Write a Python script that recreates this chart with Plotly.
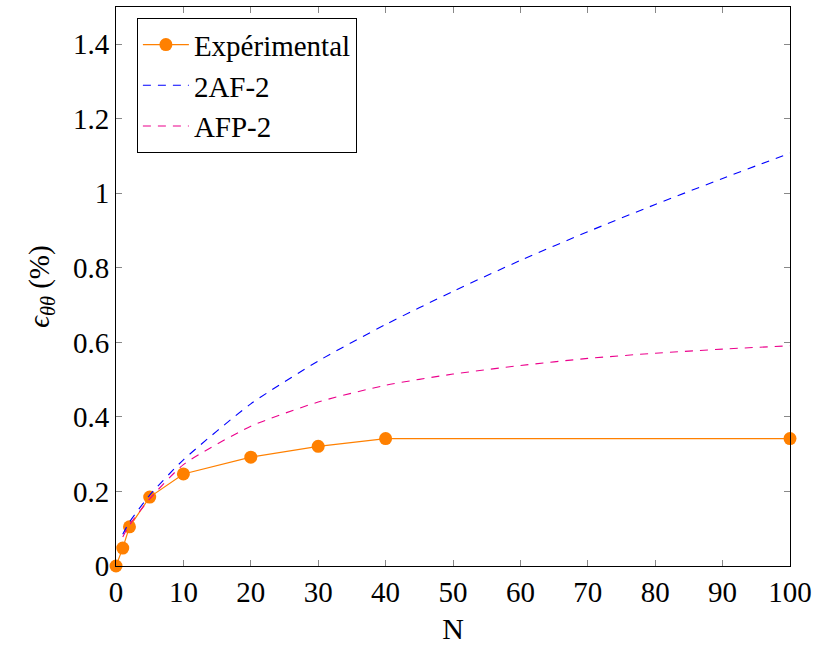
import plotly.graph_objects as go

# Experimental data
exp_N = [0, 1, 2, 5, 10, 20, 30, 40, 100]
exp_eps = [0.0, 0.048, 0.105, 0.185, 0.247, 0.292, 0.321, 0.342, 0.342]

# 2AF-2 model
af_N = [1, 2, 5, 10, 20, 30, 40, 50, 60, 70, 80, 90, 100]
af_eps = [0.085, 0.118, 0.19, 0.285, 0.435, 0.55, 0.648, 0.737, 0.82, 0.897, 0.97, 1.04, 1.108]

# AFP-2 model
afp_N = [1, 2, 5, 10, 20, 30, 40, 50, 60, 70, 80, 90, 100]
afp_eps = [0.078, 0.11, 0.18, 0.272, 0.375, 0.44, 0.485, 0.515, 0.538, 0.557, 0.571, 0.582, 0.591]

x_ticks = [0, 10, 20, 30, 40, 50, 60, 70, 80, 90, 100]
y_ticks = [0, 0.2, 0.4, 0.6, 0.8, 1.0, 1.2, 1.4]
y_tick_labels = ["0", "0.2", "0.4", "0.6", "0.8", "1", "1.2", "1.4"]

FONT = "Liberation Serif, DejaVu Serif, serif"

fig = go.Figure()
fig.add_trace(go.Scatter(
    x=exp_N, y=exp_eps, mode="lines+markers", name="Expérimental",
    line=dict(color="#FF8000", width=1.2),
    marker=dict(color="#FF8000", size=13, symbol="circle"),
    cliponaxis=False,
))
fig.add_trace(go.Scatter(
    x=af_N, y=af_eps, mode="lines", name="2AF-2",
    line=dict(color="#0000FF", width=1.1, dash="8px,7px", shape="spline", smoothing=0.6),
))
fig.add_trace(go.Scatter(
    x=afp_N, y=afp_eps, mode="lines", name="AFP-2",
    line=dict(color="#EC008C", width=1.1, dash="8px,7px", shape="spline", smoothing=0.6),
))

fig.update_layout(
    width=814, height=645,
    margin=dict(l=116, r=24, t=7, b=79),
    paper_bgcolor="white", plot_bgcolor="white",
    font=dict(family=FONT, size=29, color="black"),
    showlegend=True,
    legend=dict(
        x=0.031, y=0.98, xanchor="left", yanchor="top",
        bgcolor="white", bordercolor="black", borderwidth=1,
        font=dict(family=FONT, size=29),
        tracegroupgap=0, itemwidth=46,
    ),
    xaxis=dict(
        range=[0, 100], tickvals=x_ticks, ticktext=[str(v) for v in x_ticks],
        ticks="inside", ticklen=6, tickcolor="#888888", tickwidth=1,
        showline=True, linecolor="black", linewidth=1, mirror="ticks",
        showgrid=False, zeroline=False, automargin=False,
        title=dict(text="N", font=dict(family=FONT, size=30), standoff=14),
        tickfont=dict(family=FONT, size=29),
    ),
    yaxis=dict(
        range=[0, 1.5], tickvals=y_ticks, ticktext=y_tick_labels,
        ticks="inside", ticklen=6, tickcolor="#888888", tickwidth=1,
        showline=True, linecolor="black", linewidth=1, mirror="ticks",
        showgrid=False, zeroline=False, automargin=False,
        title=dict(text="<i>ϵ</i><sub><i>θθ</i></sub> (%)", font=dict(family=FONT, size=29), standoff=14),
        tickfont=dict(family=FONT, size=29),
    ),
)

fig.write_html(
    "out.html",
    config={"displayModeBar": False},
    post_script="document.body.style.margin='0';document.documentElement.style.overflow='hidden';",
)
